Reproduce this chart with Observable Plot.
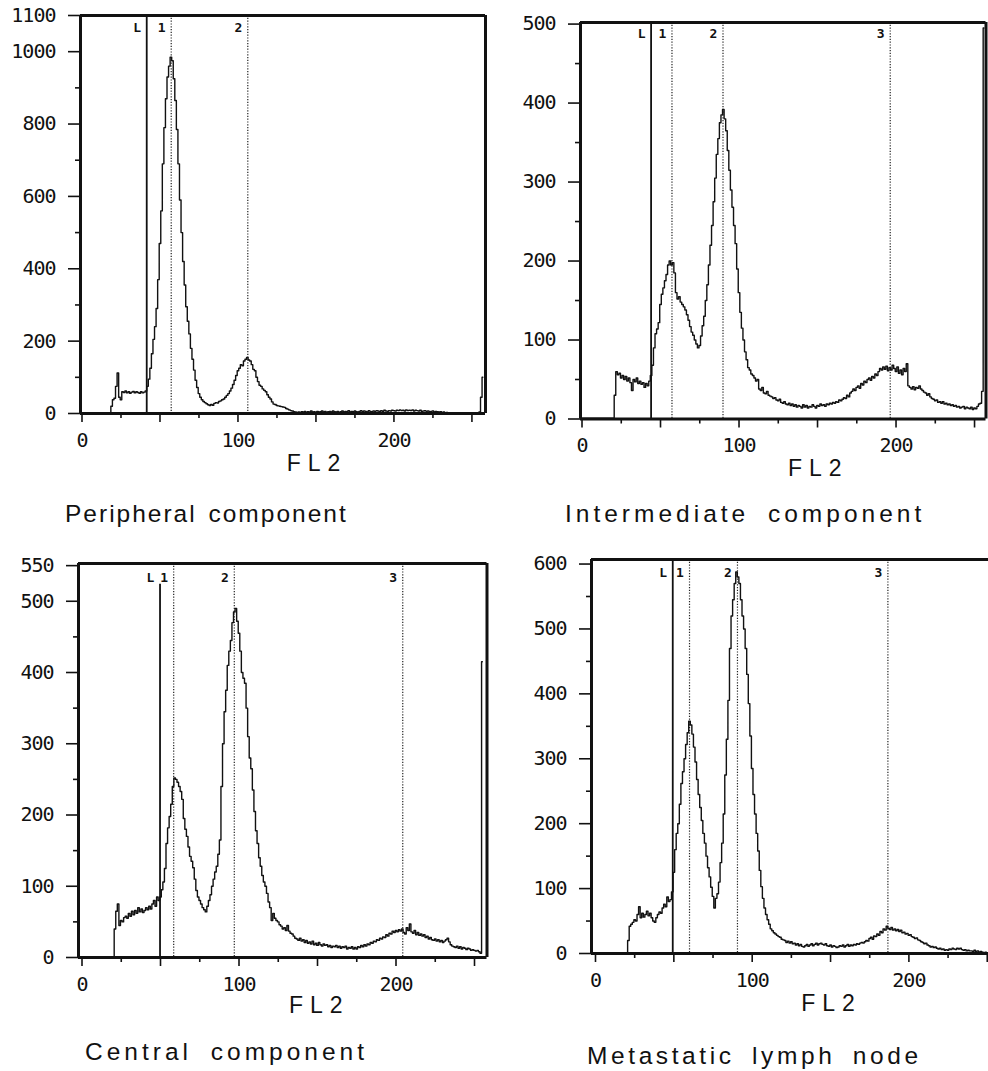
<!DOCTYPE html>
<html><head><meta charset="utf-8">
<script src="https://cdn.jsdelivr.net/npm/d3@7"></script>
<script src="https://cdn.jsdelivr.net/npm/@observablehq/plot@0.6"></script>
<style>
html,body{margin:0;padding:0;background:#fff;}
#page{position:relative;width:988px;height:1071px;overflow:hidden;background:#fff;}
.panel{position:absolute;}
.caption{position:absolute;font-family:"Liberation Sans",Arial,sans-serif;font-size:24.5px;letter-spacing:4px;word-spacing:8px;line-height:1;white-space:nowrap;color:#111;}
</style></head><body><div id="page"></div>
<script>
// ---- DATA: histogram counts per FL2 channel (index = channel) ----
const peripheralCounts = [
1,1,1,1,1,1,1,1,1,1,
1,1,1,1,1,1,1,1,1,20,
38,42,75,112,45,38,60,58,62,57,
60,56,59,61,57,60,58,56,60,57,
59,62,75,95,125,165,205,240,290,370,
470,560,690,790,870,930,960,985,975,925,
865,785,690,590,500,420,355,295,255,220,
180,150,120,92,72,55,45,38,33,30,
27,24,22,25,23,28,30,29,33,35,
38,40,45,50,55,62,70,80,92,105,
118,125,135,132,145,150,155,148,145,135,
122,118,100,88,78,75,68,64,60,52,
45,40,32,26,25,22,21,20,19,18,
17,14,12,10,8,7,5,4,3,4,
3,5,4,6,3,5,4,7,4,5,
3,6,4,5,7,4,6,3,5,6,
4,7,5,4,6,3,5,7,4,6,
5,8,4,6,5,7,5,4,6,8,
5,7,6,4,8,6,5,7,6,8,
7,5,8,6,9,7,6,8,7,9,
8,7,9,8,10,8,9,7,10,8,
9,8,10,7,9,8,7,9,6,7,
8,6,7,5,6,7,4,6,5,4,
5,3,4,2,3,2,2,1,2,2,
1,2,1,2,1,1,2,1,1,2,
1,1,2,1,1,4,45,100];

const intermediateCounts = [
1,1,1,1,1,1,1,1,1,1,
1,1,1,1,1,1,1,1,1,1,
1,30,60,56,58,52,55,50,54,48,
52,46,36,50,47,52,45,48,44,46,
40,45,42,48,55,68,90,108,114,122,
145,158,166,175,183,195,200,195,198,185,
160,152,155,148,145,142,138,132,125,117,
110,106,100,95,90,93,105,118,130,150,
170,195,220,245,275,305,335,355,375,385,
392,380,365,340,315,290,268,245,222,190,
160,135,115,100,85,75,65,62,57,55,
52,48,50,38,36,40,33,32,35,30,
29,28,26,27,24,23,25,21,20,22,
19,18,20,17,19,16,18,15,17,16,
14,18,15,17,14,16,15,18,16,14,
17,16,19,17,18,16,19,18,20,19,
21,20,22,21,24,23,25,27,26,30,
28,33,35,38,36,40,42,39,45,43,
48,46,50,52,49,54,52,57,55,60,
64,62,66,63,67,61,65,62,68,64,
60,66,58,62,56,64,60,70,42,40,
38,41,37,40,39,42,38,36,34,33,
30,32,28,26,25,23,24,21,22,20,
22,19,20,18,19,17,18,16,17,15,
16,14,15,16,13,15,14,13,15,12,
14,13,16,19,20,35,495];

const centralCounts = [
1,1,1,1,1,1,1,1,1,1,
1,1,1,1,1,1,1,1,1,1,
1,40,65,75,45,52,50,56,58,55,
62,58,65,60,66,62,70,64,68,63,
66,70,67,72,68,75,80,72,85,80,
85,95,106,125,160,182,198,215,240,252,
250,246,240,233,222,195,180,170,155,142,
135,126,110,94,85,80,75,70,67,64,
72,80,88,100,110,120,128,145,165,240,
300,345,375,410,430,445,470,485,490,472,
455,430,400,392,385,350,310,280,265,235,
205,178,160,140,128,115,106,100,90,78,
70,52,62,55,52,50,46,44,40,42,
38,45,37,34,33,30,27,26,24,27,
23,25,21,24,20,22,19,23,18,20,
17,21,18,16,19,17,18,15,17,14,
16,15,17,14,16,13,15,14,16,12,
14,13,15,12,14,12,15,14,17,15,
18,16,19,18,21,20,23,22,25,24,
27,26,29,28,32,30,34,33,37,35,
38,36,39,37,40,35,33,42,38,47,
36,34,38,32,35,31,33,30,32,28,
30,26,28,25,24,26,23,25,22,24,
21,23,25,27,22,18,16,15,14,16,
13,15,12,14,13,11,13,12,10,11,
10,9,10,8,6,415];

const metastaticCounts = [
1,1,1,1,1,1,1,1,1,1,
1,1,1,1,1,1,1,1,1,1,
1,20,42,45,48,52,50,60,72,55,
62,56,60,65,58,62,55,50,48,55,
60,64,62,70,76,72,87,80,83,95,
125,160,185,200,230,262,280,300,322,340,
358,352,338,318,295,268,245,225,205,185,
170,150,132,118,102,88,70,85,92,110,
140,170,215,275,330,390,470,520,545,570,
588,580,570,545,520,500,470,430,385,335,
285,245,215,185,158,128,103,85,70,60,
52,45,38,35,32,30,28,26,25,22,
21,20,17,19,16,18,15,16,13,15,
12,14,11,10,12,14,11,13,15,12,
14,16,13,15,16,14,13,15,12,11,
13,10,12,11,9,10,12,11,13,10,
12,14,11,13,12,14,13,15,14,16,
17,16,18,20,19,23,25,22,27,26,
30,28,34,32,38,36,42,39,37,40,
36,38,35,37,34,36,32,33,30,31,
28,29,26,25,23,24,21,20,18,17,
15,16,13,12,10,11,9,10,8,7,
8,6,7,5,6,5,7,6,8,7,
6,8,7,8,6,5,6,4,5,4,
4,3,5,3,4,2,3,2,1,2,
1];

// gate markers (channel positions)
const peripheralMarkers   = [{label:"L", ch:41.5}, {label:"1", ch:57.2}, {label:"2", ch:106.3}];
const intermediateMarkers = [{label:"L", ch:44.0}, {label:"1", ch:57.3}, {label:"2", ch:89.8}, {label:"3", ch:196.3}];
const centralMarkers      = [{label:"L", ch:49.7}, {label:"1", ch:58.4}, {label:"2", ch:97.0}, {label:"3", ch:204.3}];
const metastaticMarkers   = [{label:"L", ch:49.3}, {label:"1", ch:60.0}, {label:"2", ch:90.6}, {label:"3", ch:186.6}];

// tick labels
const xMajorTicks = [0, 50, 100, 150, 200, 250];
const xMinorTicks = [25, 75, 125, 175, 225];
const peripheralYMajor = [0, 200, 400, 600, 800, 1000, 1100];
const peripheralYMinor = [100, 300, 500, 700, 900];
const intermediateYMajor = [0, 100, 200, 300, 400, 500];
const intermediateYMinor = [50, 150, 250, 350, 450];
const centralYMajor = [0, 100, 200, 300, 400, 500, 550];
const centralYMinor = [50, 150, 250, 350, 450];
const metastaticYMajor = [0, 100, 200, 300, 400, 500, 600];
const metastaticYMinor = [50, 150, 250, 350, 450, 550];

const xLabel = "FL2";
const captions = ["Peripheral component", "Intermediate component", "Central component", "Metastatic lymph node"];

// ---- LAYOUT ----
const panels = [
  {counts: peripheralCounts, markers: peripheralMarkers, yMajor: peripheralYMajor, yMinor: peripheralYMinor,
   yTop: 1100, lTop: 1100, xDomain: [-0.96, 258.7], frame: {left: 80, right: 485, top: 15, bottom: 413},
   rightEdge: true, markDy: 12, labelDx: 34, labelDy: 50.5,
   caption: {left: 65, top: 502, spacing: "2px", words: "3px"}},
  {counts: intermediateCounts, markers: intermediateMarkers, yMajor: intermediateYMajor, yMinor: intermediateYMinor,
   yTop: 502, lTop: 502, xDomain: [-0.96, 257.3], frame: {left: 579.5, right: 985, top: 22, bottom: 418.5},
   rightEdge: true, markDy: 11, labelDx: 35, labelDy: 50,
   caption: {left: 565, top: 502, spacing: "4px", words: "8px"}},
  {counts: centralCounts, markers: centralMarkers, yMajor: centralYMajor, yMinor: centralYMinor,
   yTop: 553, lTop: 524, xDomain: [-2.23, 257.96], frame: {left: 77.5, right: 486, top: 563, bottom: 957},
   rightEdge: true, markDy: 14, labelDx: 36.5, labelDy: 48,
   caption: {left: 85, top: 1040, spacing: "4px", words: "8px"}},
  {counts: metastaticCounts, markers: metastaticMarkers, yMajor: metastaticYMajor, yMinor: metastaticYMinor,
   yTop: 607, lTop: 607, xDomain: [-2.55, 250.8], frame: {left: 591, right: 988, top: 559, bottom: 953},
   rightEdge: false, markDy: 13.5, labelDx: 41.5, labelDy: 50.5,
   caption: {left: 587, top: 1044, spacing: "3.6px", words: "7px"}}
];

const page = document.getElementById("page");

panels.forEach((p, i) => {
  const f = p.frame;
  const mL = 80, mT = 12, mB = 72, mR = p.rightEdge ? 4 : 0;
  const width = mL + (f.right - f.left) + mR;
  const height = mT + (f.bottom - f.top) + mB;
  const data = p.counts.map((v, ch) => ({ch, count: v}));
  const dotted = p.markers.filter(m => m.label !== "L");
  const solid = p.markers.filter(m => m.label === "L");
  const ink = "#111";
  const marks = [
    Plot.axisY(p.yMajor, {tickSize: 12, tickPadding: 13, strokeWidth: 1.6, stroke: ink, fill: ink, label: null, fontSize: 20,
      tickFormat: d => String(d)}),
    Plot.axisY(p.yMinor, {tickSize: 5, tickFormat: () => "", strokeWidth: 1.6, stroke: ink, label: null}),
    Plot.axisX(xMajorTicks, {tickSize: 9, tickPadding: 10, strokeWidth: 1.6, stroke: ink, fill: ink, label: null, fontSize: 20,
      tickFormat: d => d % 100 === 0 ? String(d) : ""}),
    Plot.axisX(xMinorTicks, {tickSize: 5, tickFormat: () => "", strokeWidth: 1.6, stroke: ink, label: null}),
    Plot.ruleX(dotted, {x: "ch", stroke: "#222", strokeWidth: 1.2, strokeDasharray: "1.2,1.6"}),
    Plot.ruleX(solid, {x: "ch", y1: 0, y2: p.lTop, stroke: ink, strokeWidth: 1.8}),
    Plot.line(data, {x: "ch", y: "count", curve: "step", stroke: ink, strokeWidth: 1.4}),
    Plot.text(p.markers, {x: "ch", y: p.yTop, text: "label", dx: -10, dy: p.markDy, fontSize: 13, fontWeight: "bold",
      fontFamily: "'DejaVu Sans Mono', monospace", fill: ink}),
    Plot.ruleX([p.xDomain[0]], {stroke: ink, strokeWidth: 3}),
    Plot.ruleY([0, p.yTop], {stroke: ink, strokeWidth: 3}),
    Plot.text([xLabel], {frameAnchor: "bottom", lineAnchor: "middle", text: d => d, dx: p.labelDx, dy: p.labelDy, fontSize: 23,
      fontFamily: "'Liberation Sans', Arial, sans-serif", fill: ink})
  ];
  if (p.rightEdge) marks.push(Plot.ruleX([p.xDomain[1]], {stroke: ink, strokeWidth: 3}));

  const svg = Plot.plot({
    width, height, marginLeft: mL, marginRight: mR, marginTop: mT, marginBottom: mB,
    x: {domain: p.xDomain, label: null},
    y: {domain: [0, p.yTop], label: null},
    style: {background: "transparent", fontFamily: "'DejaVu Sans Mono', monospace", fontSize: "20px",
      letterSpacing: "-1px", overflow: "visible", color: ink},
    marks
  });
  d3.select(svg).selectAll("text").filter(function() { return this.textContent === xLabel; })
    .style("letter-spacing", "7px");
  svg.classList.add("panel");
  svg.style.position = "absolute";
  svg.style.left = (f.left - mL) + "px";
  svg.style.top = (f.top - mT) + "px";
  page.appendChild(svg);

  const cap = document.createElement("div");
  cap.className = "caption";
  cap.textContent = captions[i];
  cap.style.left = p.caption.left + "px";
  cap.style.top = p.caption.top + "px";
  cap.style.letterSpacing = p.caption.spacing;
  cap.style.wordSpacing = p.caption.words;
  page.appendChild(cap);
});
</script>
</body></html>
